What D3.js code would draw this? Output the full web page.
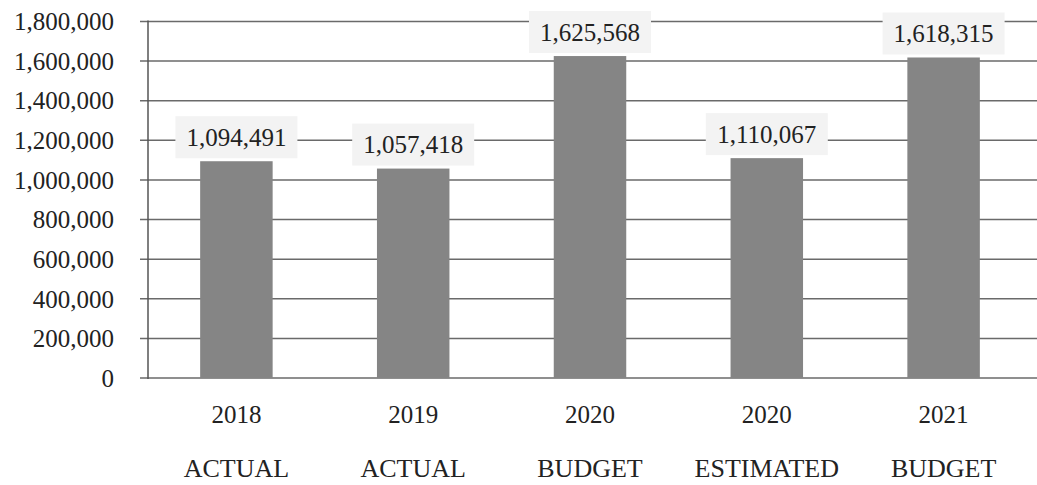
<!DOCTYPE html>
<meta charset="utf-8">
<html>
<head><title>actual vs budget</title>
    <script src="https://d3js.org/d3.v7.min.js"></script>
    <style>
        body { margin: 0; background: #fff; }
        text { font-family: "Liberation Serif", "Times New Roman", serif; fill: #222; }
        .grid line { stroke: #6a6a6a; stroke-width: 1.5; }
        .bar { fill: #858585; }
        .lblBox { fill: #f3f3f3; }
    </style>
</head>
<body>
<div id="chart"></div>
<script>
    var SVGwidth = 1037, SVGheight = 485;

    // chart data
    var years = ["2018", "2019", "2020", "2020", "2021"];
    var kinds = ["ACTUAL", "ACTUAL", "BUDGET", "ESTIMATED", "BUDGET"];
    var values = [1094491, 1057418, 1625568, 1110067, 1618315];
    var yTicks = [0, 200000, 400000, 600000, 800000, 1000000, 1200000, 1400000, 1600000, 1800000];

    var axisX = 148, y0 = 378, yTop = 21.5;

    var svg = d3.select("#chart").append("svg")
            .attr("width", SVGwidth)
            .attr("height", SVGheight);

    // inner gap 0.59 of a step, half of that at each end so bars sit mid-slot
    var x = d3.scaleBand()
            .domain(d3.range(values.length))
            .range([axisX, 1032])
            .paddingInner(0.59)
            .paddingOuter(0.295);

    var y = d3.scaleLinear()
            .domain([0, 1800000])
            .range([y0, yTop]);

    var fmt = d3.format(",");

    // gridlines + tick labels
    var grid = svg.append("g").attr("class", "grid");
    grid.selectAll("line")
            .data(yTicks)
            .enter().append("line")
            .attr("x1", 140)
            .attr("x2", SVGwidth)
            .attr("y1", function(d) { return y(d); })
            .attr("y2", function(d) { return y(d); });

    svg.append("g").selectAll("text")
            .data(yTicks)
            .enter().append("text")
            .attr("x", 114)
            .attr("y", function(d) { return y(d); })
            .attr("dy", "0.35em")
            .attr("text-anchor", "end")
            .style("font-size", "25px")
            .text(function(d) { return fmt(d); });

    // vertical axis line
    svg.append("line")
            .attr("x1", axisX).attr("x2", axisX)
            .attr("y1", yTop - 1).attr("y2", y0 + 1)
            .attr("stroke", "#555")
            .attr("stroke-width", 1.5);

    // bars
    svg.append("g").selectAll("rect")
            .data(values)
            .enter().append("rect")
            .attr("class", "bar")
            .attr("x", function(d, i) { return x(i); })
            .attr("width", x.bandwidth())
            .attr("y", function(d) { return y(d); })
            .attr("height", function(d) { return y0 - y(d); });

    // value labels with pale box
    var lbl = svg.append("g").selectAll("g")
            .data(values)
            .enter().append("g")
            .attr("transform", function(d, i) {
                return "translate(" + (x(i) + x.bandwidth() / 2) + "," + (y(d) - 24) + ")";
            });

    lbl.append("rect")
            .attr("class", "lblBox")
            .attr("x", -61)
            .attr("y", -21)
            .attr("width", 122)
            .attr("height", 42);

    lbl.append("text")
            .attr("text-anchor", "middle")
            .attr("dy", "0.35em")
            .style("font-size", "25px")
            .text(function(d) { return fmt(d); });

    // category labels, two rows
    svg.append("g").selectAll("text")
            .data(years)
            .enter().append("text")
            .attr("x", function(d, i) { return x(i) + x.bandwidth() / 2; })
            .attr("y", 423)
            .attr("text-anchor", "middle")
            .style("font-size", "25px")
            .text(function(d) { return d; });

    svg.append("g").selectAll("text")
            .data(kinds)
            .enter().append("text")
            .attr("x", function(d, i) { return x(i) + x.bandwidth() / 2; })
            .attr("y", 477)
            .attr("text-anchor", "middle")
            .style("font-size", "26px")
            .text(function(d) { return d; });
</script>
</body>
</html>
